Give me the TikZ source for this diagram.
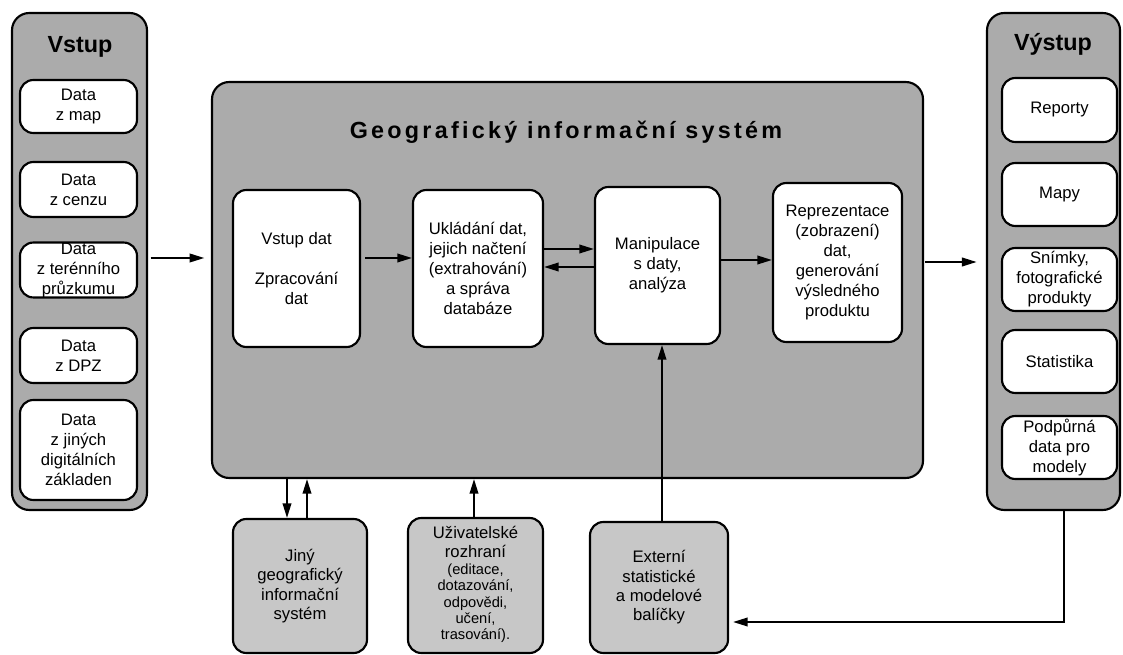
\documentclass[tikz,border=0pt]{standalone}
\usepackage{fontspec}
\setmainfont{Liberation Sans}
\newfontfamily\titlefont[LetterSpace=14]{Liberation Sans}
\usetikzlibrary{arrows.meta}
% #1 style, #2 name, #3 x1, #4 y1, #5 x2, #6 y2, #7 text  (pixel coordinates)
\newcommand\pxbox[7]{%
  \pgfmathsetmacro\pxcx{(#3+#5)/2}%
  \pgfmathsetmacro\pxcy{(#4+#6)/2}%
  \pgfmathsetmacro\pxww{(#5-#3)*0.75}%
  \pgfmathsetmacro\pxhh{(#6-#4)*0.75}%
  \node[#1, minimum width=\pxww pt, minimum height=\pxhh pt] (#2) at (\pxcx,\pxcy) {#7};}
\newcommand\smalluiv{\fontsize{11}{12.2}\selectfont}
\begin{document}
\begin{tikzpicture}[x=0.75pt,y=-0.75pt,
  panel/.style={draw=black, line width=1.6pt, fill=black!33, rounded corners=13pt, inner sep=0pt},
  wbox/.style={draw=black, line width=1.6pt, fill=white, rounded corners=10pt, inner sep=0pt,
               align=center, font=\fontsize{12.5}{15}\selectfont},
  gbox/.style={wbox, fill=black!22, font=\fontsize{12.5}{14.5}\selectfont},
  ptitle/.style={font=\fontsize{17.5}{20}\selectfont\bfseries},
  arr/.style={line width=1.3pt, -{Triangle[length=11pt,width=6.5pt]}}
]
\useasboundingbox (0,0) rectangle (1123,655);
\fill[white] (0,0) rectangle (1123,655);

% ---- panels ----
\pxbox{panel}{vstup}{12}{13}{147}{510}{}
\node[ptitle] (vstupT) at (80,47) {Vstup};
\pxbox{panel}{gis}{212}{82}{923}{478}{}
\node[font=\titlefont\fontsize{17.5}{20}\selectfont\bfseries] (gisT) at (566,132) {Geografický informační systém};
\pxbox{panel}{vystup}{987}{13}{1120}{510}{}
\node[ptitle] (vystupT) at (1053,44) {Výstup};

% ---- input boxes ----
\pxbox{wbox}{in1}{20}{80}{137}{133}{Data\\z map}
\pxbox{wbox}{in2}{20}{162}{137}{217}{Data\\z cenzu}
\pxbox{wbox}{in3}{20}{243}{137}{297}{Data\\z terénního\\průzkumu}
\pxbox{wbox}{in4}{20}{328}{137}{383}{Data\\z DPZ}
\pxbox{wbox}{in5}{20}{400}{137}{500}{Data\\z jiných\\digitálních\\základen}

% ---- GIS boxes ----
\pxbox{wbox}{d1}{233}{190}{360}{347}{Vstup dat\\[15pt]Zpracování\\dat}
\pxbox{wbox}{d2}{413}{190}{543}{347}{Ukládání dat,\\jejich načtení\\(extrahování)\\a správa\\databáze}
\pxbox{wbox}{d3}{595}{187}{720}{344}{Manipulace\\s daty,\\analýza}
\pxbox{wbox}{d4}{773}{183}{902}{342}{Reprezentace\\(zobrazení)\\dat,\\generování\\výsledného\\produktu}

% ---- output boxes ----
\pxbox{wbox}{out1}{1002}{78}{1117}{142}{Reporty}
\pxbox{wbox}{out2}{1002}{163}{1117}{226}{Mapy}
\pxbox{wbox}{out3}{1002}{248}{1117}{311}{Snímky,\\fotografické\\produkty}
\pxbox{wbox}{out4}{1002}{330}{1117}{393}{Statistika}
\pxbox{wbox}{out5}{1002}{416}{1117}{479}{Podpůrná\\data pro\\modely}

% ---- bottom boxes ----
\pxbox{gbox}{jiny}{233}{519}{367}{653}{Jiný\\geografický\\informační\\systém}
\pxbox{gbox}{uziv}{408}{518}{543}{653}{Uživatelské\\rozhraní\\[-2pt]\smalluiv\begin{tabular}[t]{@{}c@{}}(editace,\\dotazování,\\odpovědi,\\učení,\\trasování).\end{tabular}}
\pxbox{gbox}{ext}{590}{522}{728}{653}{Externí\\statistické\\a modelové\\balíčky}

% ---- connectors ----
\draw[arr, shorten <=2pt, shorten >=5pt] (vstup.east |- 0,258) -- (gis.west |- 0,258);
\draw[arr, shorten <=3pt] (d1.east |- 0,258) -- (d2.west |- 0,258);
\draw[arr] (d2.east |- 0,249) -- (d3.west |- 0,249);
\draw[arr] (d3.west |- 0,267) -- (d2.east |- 0,267);
\draw[arr] (d3.east |- 0,260) -- (d4.west |- 0,260);
\draw[arr, shorten <=1pt, shorten >=7pt] (gis.east |- 0,262) -- (vystup.west |- 0,262);
\draw[arr] (gis.south -| 287,0) -- (jiny.north -| 287,0);
\draw[arr] (jiny.north -| 307,0) -- (gis.south -| 307,0);
\draw[arr] (uziv.north -| 474,0) -- (gis.south -| 474,0);
\draw[arr] (ext.north -| 662,0) -- (d3.south -| 662,0);
\draw[arr, shorten >=3pt] (vystup.south -| 1064,0) |- (ext.east |- 0,622);
\end{tikzpicture}
\end{document}
